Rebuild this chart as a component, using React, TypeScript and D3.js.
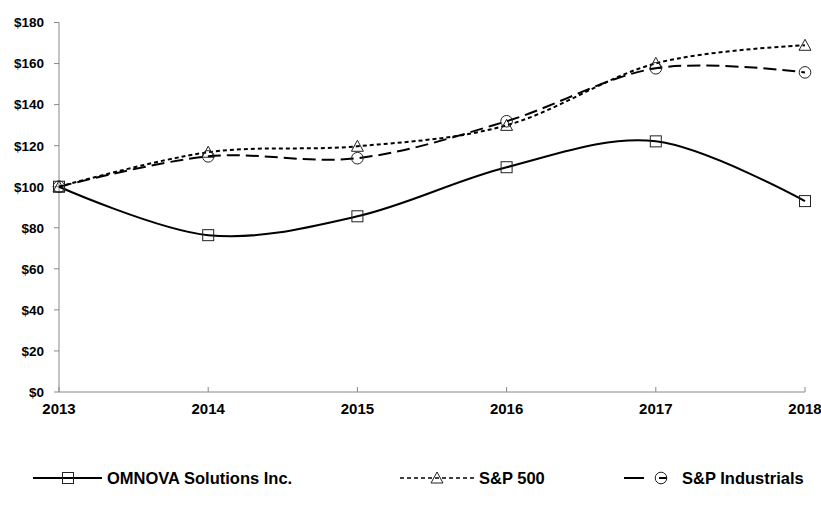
import React from "react";
import * as d3 from "d3";

const years = ["2013", "2014", "2015", "2016", "2017", "2018"];
const omnova = [100, 76.4, 85.6, 109.5, 122.1, 93.0];
const sp500 = [100, 116.8, 119.7, 129.9, 160.1, 168.9];
const spInd = [100, 114.8, 113.9, 131.9, 157.7, 155.7];
const yTicks = [0, 20, 40, 60, 80, 100, 120, 140, 160, 180];
const seriesNames = ["OMNOVA Solutions Inc.", "S&P 500", "S&P Industrials"];

const W = 821;
const H = 507;
const left = 59;
const right = 805;
const top = 22.5;
const bottom = 392;

const font = "'Liberation Sans', Arial, sans-serif";

function Marker({ kind, x, y }: { kind: string; x: number; y: number }) {
  const s = 5.5;
  if (kind === "square")
    return <rect x={x - s} y={y - s} width={2 * s} height={2 * s} fill="none" stroke="#222" strokeWidth={1} />;
  if (kind === "triangle")
    return (
      <path
        d={`M${x},${y - 6}L${x + 6},${y + 5}L${x - 6},${y + 5}Z`}
        fill="none"
        stroke="#222"
        strokeWidth={1}
      />
    );
  return <circle cx={x} cy={y} r={5.8} fill="none" stroke="#222" strokeWidth={1} />;
}

export default function App() {
  const x = d3.scalePoint<string>().domain(years).range([left, right]);
  const y = d3.scaleLinear().domain([0, 180]).range([bottom, top]);
  const line = d3
    .line<number>()
    .x((_, i) => x(years[i]) as number)
    .y((d) => y(d))
    .curve(d3.curveCardinal.tension(0));

  const series = [
    { name: seriesNames[0], data: omnova, dash: "", marker: "square" },
    { name: seriesNames[1], data: sp500, dash: "4,3", marker: "triangle" },
    { name: seriesNames[2], data: spInd, dash: "13,6", marker: "circle" },
  ];

  const legendY = 478;

  return (
    <svg width={W} height={H} style={{ position: "absolute", left: 0, top: 0 }}>
      <rect width={W} height={H} fill="#fff" />
      {/* axes */}
      <line x1={left} x2={left} y1={top} y2={bottom} stroke="#888" strokeWidth={1} />
      <line x1={left} x2={right} y1={bottom} y2={bottom} stroke="#888" strokeWidth={1} />
      {yTicks.map((t) => (
        <g key={t}>
          <line x1={left - 5} x2={left} y1={y(t)} y2={y(t)} stroke="#888" />
          <text
            x={44}
            y={y(t)}
            dy="0.36em"
            textAnchor="end"
            fontFamily={font}
            fontWeight="bold"
            fontSize={13.5}
            fill="#000"
          >
            {"$" + t}
          </text>
        </g>
      ))}
      {years.map((yr) => (
        <g key={yr}>
          <line x1={x(yr)} x2={x(yr)} y1={bottom} y2={bottom - 5} stroke="#888" />
          <text
            x={x(yr)}
            y={414}
            textAnchor="middle"
            fontFamily={font}
            fontWeight="bold"
            fontSize={15}
            fill="#000"
          >
            {yr}
          </text>
        </g>
      ))}
      {/* series */}
      {series.map((s) => (
        <g key={s.name}>
          <path d={line(s.data) || ""} fill="none" stroke="#000" strokeWidth={2} strokeDasharray={s.dash} />
          {s.data.map((v, i) => (
            <Marker key={i} kind={s.marker} x={x(years[i]) as number} y={y(v)} />
          ))}
        </g>
      ))}
      {/* legend */}
      <g>
        <line x1={33} x2={102} y1={legendY} y2={legendY} stroke="#000" strokeWidth={2} />
        <Marker kind="square" x={68} y={legendY} />
        <text x={107} y={legendY} dy="0.36em" fontFamily={font} fontWeight="bold" fontSize={16.5} fill="#000">
          {seriesNames[0]}
        </text>

        <line x1={400} x2={475} y1={legendY} y2={legendY} stroke="#000" strokeWidth={1.5} strokeDasharray="4,3" />
        <Marker kind="triangle" x={437} y={legendY} />
        <text x={479} y={legendY} dy="0.36em" fontFamily={font} fontWeight="bold" fontSize={16.5} fill="#000">
          {seriesNames[1]}
        </text>

        <line x1={624} x2={676} y1={legendY} y2={legendY} stroke="#000" strokeWidth={2} strokeDasharray="20,15,8" />
        <Marker kind="circle" x={661} y={legendY} />
        <text x={682} y={legendY} dy="0.36em" fontFamily={font} fontWeight="bold" fontSize={16.5} fill="#000">
          {seriesNames[2]}
        </text>
      </g>
    </svg>
  );
}
